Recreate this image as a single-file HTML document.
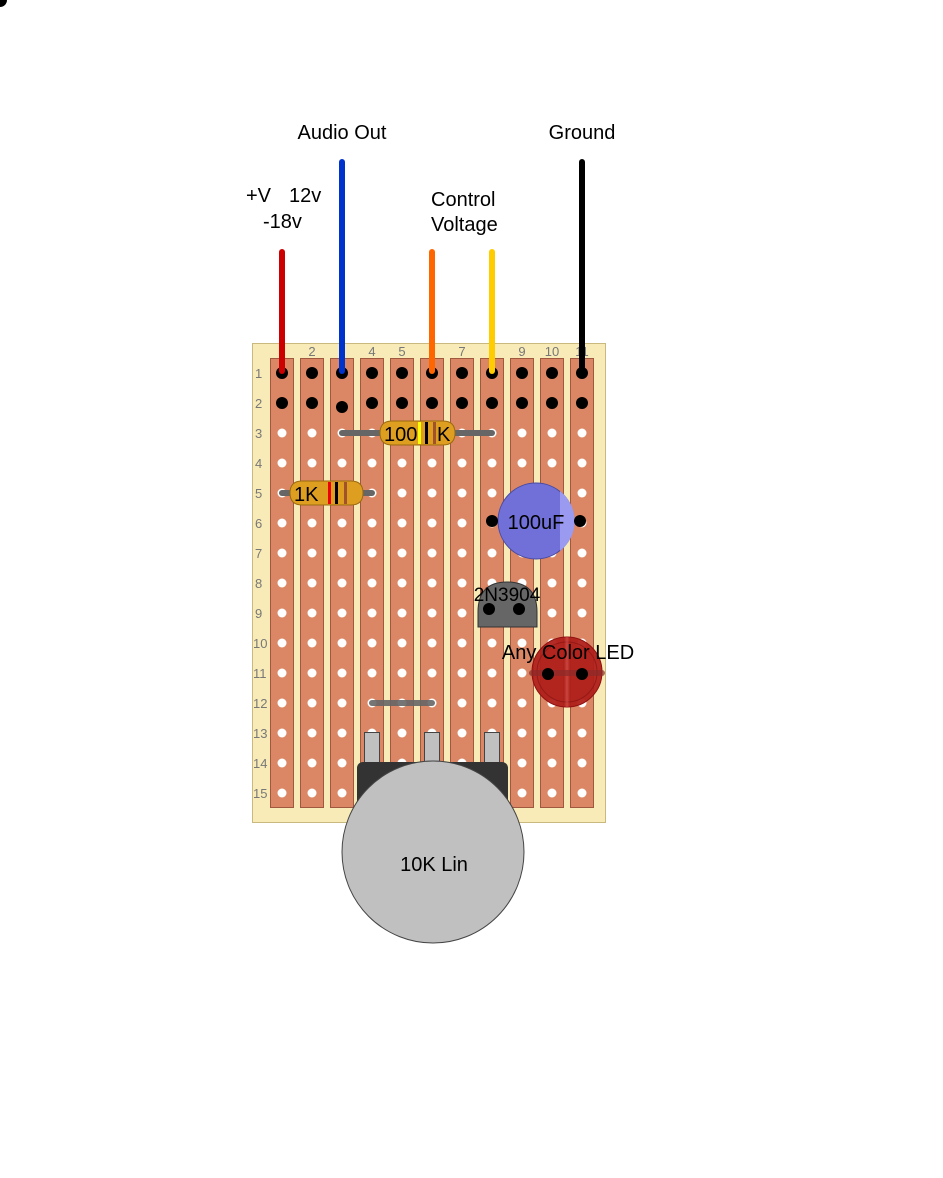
<!DOCTYPE html>
<html><head><meta charset="utf-8"><style>
html,body{margin:0;padding:0;background:#fff;width:943px;height:1178px;overflow:hidden}
svg{display:block}
text{font-family:"Liberation Sans",sans-serif}
</style></head><body>
<svg id="s" width="943" height="1178" viewBox="0 0 943 1178" xmlns="http://www.w3.org/2000/svg">
<circle cx="0" cy="0" r="7" fill="#000"/>
<rect x="252.5" y="343.5" width="353" height="479" fill="#f8ebb7" stroke="#c9b97e"/>
<g id="strips"></g>
<g id="labels" font-size="13" fill="#777"></g>
<g id="holes"></g>

<line x1="372" y1="703" x2="432" y2="703" stroke="#666" stroke-width="6" stroke-linecap="round" stroke-opacity="0.9"/>

<g>
<line x1="342" y1="433" x2="492" y2="433" stroke="#666" stroke-width="6" stroke-linecap="round"/>
<path d="M392 421 Q380 421 380 433 Q380 445 392 445 L443 445 Q455 445 455 433 Q455 421 443 421 Z" fill="#de9e20" stroke="#9a6a10"/>
<rect x="418" y="422" width="3" height="22" fill="#ff0"/>
<rect x="425" y="422" width="3" height="22" fill="#000"/>
<rect x="433" y="422" width="3" height="22" fill="#a0522d"/>
<text x="384" y="441" font-size="20" fill="#000">100</text>
<text x="437" y="441" font-size="20" fill="#000">K</text>
</g>
<g>
<line x1="282" y1="493" x2="372" y2="493" stroke="#666" stroke-width="6" stroke-linecap="round"/>
<path d="M302 481 Q290 481 290 493 Q290 505 302 505 L351 505 Q363 505 363 493 Q363 481 351 481 Z" fill="#de9e20" stroke="#9a6a10"/>
<rect x="328" y="482" width="3" height="22" fill="#e00"/>
<rect x="335" y="482" width="3" height="22" fill="#000"/>
<rect x="344" y="482" width="3" height="22" fill="#a0522d"/>
<text x="294" y="501" font-size="20" fill="#000">1K</text>
</g>
<g>
<circle cx="536" cy="521" r="38" fill="#7070d8" stroke="#4a4aa0"/>
<path d="M560 491 A38 38 0 0 1 560 551 Z" fill="#9a9af0"/>
<circle cx="492" cy="521" r="6" fill="#000"/>
<circle cx="580" cy="521" r="6" fill="#000"/>
<text x="536" y="529" font-size="20" text-anchor="middle" fill="#000">100uF</text>
</g>
<g>
<path d="M478 627 L478 612 Q478 582 507 582 Q537 582 537 612 L537 627 Z" fill="#666" stroke="#333"/>
<circle cx="489" cy="609" r="6" fill="#000"/>
<circle cx="519" cy="609" r="6" fill="#000"/>
<text x="507" y="601" font-size="19" text-anchor="middle" fill="#000">2N3904</text>
</g>
<g>
<circle cx="567" cy="672" r="35" fill="#b0201a" fill-opacity="0.95" stroke="#901010"/>
<circle cx="567" cy="672" r="30" fill="none" stroke="#801010" stroke-opacity="0.6"/>
<line x1="567" y1="637" x2="567" y2="707" stroke="#e06060" stroke-opacity="0.4" stroke-width="3"/>
<line x1="532" y1="673" x2="602" y2="673" stroke="#8a2a2a" stroke-width="6" stroke-linecap="round" stroke-opacity="0.7"/>
<circle cx="548" cy="674" r="6" fill="#000"/>
<circle cx="582" cy="674" r="6" fill="#000"/>
<text x="568" y="659" font-size="20" text-anchor="middle" fill="#000">Any Color LED</text>
</g>
<g>
<rect x="364.5" y="732.5" width="15" height="34" fill="#c0c0c0" stroke="#444"/>
<rect x="424.5" y="732.5" width="15" height="34" fill="#c0c0c0" stroke="#444"/>
<rect x="484.5" y="732.5" width="15" height="34" fill="#c0c0c0" stroke="#444"/>
<rect x="357" y="762" width="151" height="50" rx="6" fill="#333"/>
<circle cx="433" cy="852" r="91" fill="#c0c0c0" stroke="#444"/>
<text x="434" y="871" font-size="20" text-anchor="middle" fill="#000">10K Lin</text>
</g>
<g stroke-width="6" stroke-linecap="round">
<line x1="282" y1="252" x2="282" y2="371" stroke="#c00"/>
<line x1="342" y1="162" x2="342" y2="371" stroke="#0033cc"/>
<line x1="432" y1="252" x2="432" y2="371" stroke="#f60"/>
<line x1="492" y1="252" x2="492" y2="371" stroke="#fc0"/>
<line x1="582" y1="162" x2="582" y2="371" stroke="#000"/>
</g>
<g font-size="20" fill="#000">
<text x="342" y="139" text-anchor="middle">Audio Out</text>
<text x="582" y="139" text-anchor="middle">Ground</text>
<text x="246" y="202">+V</text>
<text x="289" y="202">12v</text>
<text x="263" y="228">-18v</text>
<text x="431" y="206">Control</text>
<text x="431" y="231">Voltage</text>
</g>
</svg>
<script>
const NS='http://www.w3.org/2000/svg';
const cols=[1,2,3,4,5,6,7,8,9,10,11];
const rows=[1,2,3,4,5,6,7,8,9,10,11,12,13,14,15];
const colLabels=['2','4','5','7','9','10','11'];
const cx=c=>282+(c-1)*30, cy=r=>373+(r-1)*30;
const st=document.getElementById('strips'),lb=document.getElementById('labels'),hl=document.getElementById('holes');
cols.forEach(c=>{const e=document.createElementNS(NS,'rect');
e.setAttribute('x',cx(c)-11.5);e.setAttribute('y',358.5);e.setAttribute('width',23);e.setAttribute('height',449);
e.setAttribute('fill','#db8766');e.setAttribute('stroke','#a0583e');


st.appendChild(e);});
colLabels.forEach(l=>{const t=document.createElementNS(NS,'text');
t.setAttribute('x',cx(+l));t.setAttribute('y',356);t.setAttribute('text-anchor','middle');t.textContent=l;


lb.appendChild(t);});
rows.forEach(r=>{const t=document.createElementNS(NS,'text');
t.setAttribute('x',r>9?253:255);t.setAttribute('y',cy(r)+5);t.textContent=r;


lb.appendChild(t);});
rows.forEach(r=>cols.forEach(c=>{const e=document.createElementNS(NS,'circle');
const big=r<=2;e.setAttribute('cx',cx(c));e.setAttribute('cy',cy(r)+(r==2&&c==3?4:0));
e.setAttribute('r',big?6:4.5);e.setAttribute('fill',big?'#000':'#fff');


hl.appendChild(e);}));
</script>
</body></html>
